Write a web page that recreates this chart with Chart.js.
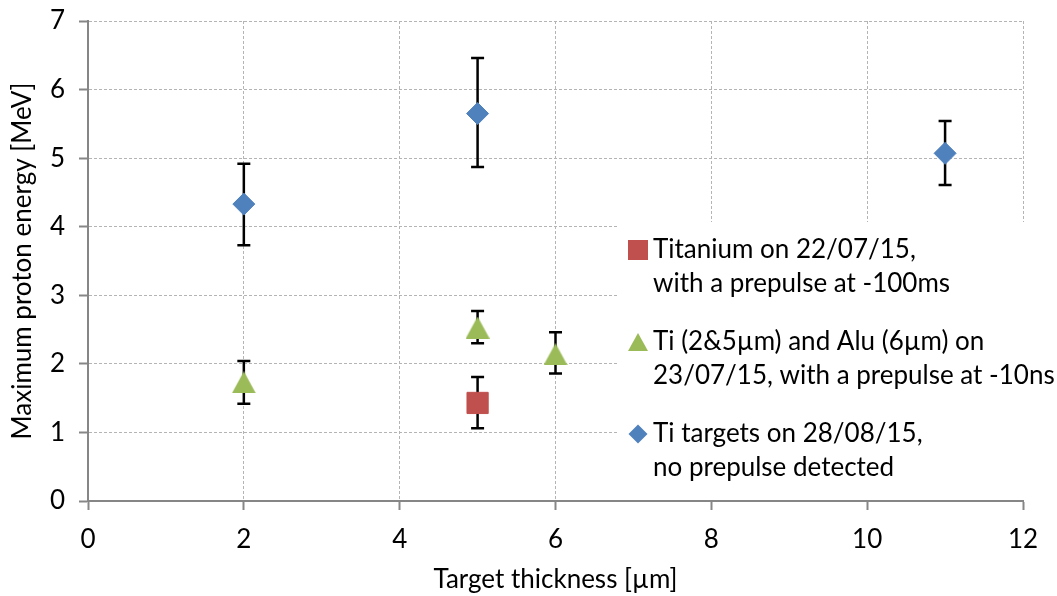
<!DOCTYPE html>
<html>
<head>
<meta charset="utf-8">
<script src="https://cdn.jsdelivr.net/npm/chart.js@4"></script>
<style>
  html, body { margin: 0; padding: 0; background: #fff; }
  #wrap { width: 1057px; height: 596px; position: relative; }
</style>
</head>
<body>
<div id="wrap"><canvas id="chart"></canvas></div>
<script>
// Series data
const seriesLabels = [
    ['Titanium on 22/07/15,', 'with a prepulse at -100ms'],
    ['Ti (2&5µm) and Alu (6µm) on', '23/07/15, with a prepulse at -10ns'],
    ['Ti targets on 28/08/15,', 'no prepulse detected']
];

const redX = [5];
const redY = [1.43];
const redLow = [1.06];
const redHigh = [1.81];

const greenX = [2, 5, 6];
const greenY = [1.73, 2.53, 2.14];
const greenLow = [1.42, 2.30, 1.86];
const greenHigh = [2.04, 2.77, 2.46];

const blueX = [2, 5, 11];
const blueY = [4.33, 5.65, 5.07];
const blueLow = [3.73, 4.87, 4.61];
const blueHigh = [4.92, 6.46, 5.54];

const xTicks = [0, 2, 4, 6, 8, 10, 12];
const yTicks = [0, 1, 2, 3, 4, 5, 6, 7];

const FONT = 'Lato';

// triangle marker centred on its bounding box (like Excel)
function triangleMarker(color, w, h) {
    const c = document.createElement('canvas');
    c.width = w; c.height = h;
    const g = c.getContext('2d');
    g.fillStyle = color;
    g.beginPath();
    g.moveTo(w / 2, 0);
    g.lineTo(w, h);
    g.lineTo(0, h);
    g.closePath();
    g.fill();
    return c;
}

function toPoints(xs, ys) {
    return xs.map((x, i) => ({ x: x, y: ys[i] }));
}

const errorBars = {
    id: 'errorBars',
    beforeDatasetsDraw(chart) {
        const ctx = chart.ctx;
        const xs = chart.scales.x, ys = chart.scales.y;
        ctx.save();
        ctx.strokeStyle = '#000';
        ctx.lineWidth = 2.5;
        chart.data.datasets.forEach(ds => {
            ds.data.forEach((p, i) => {
                const px = xs.getPixelForValue(p.x);
                const top = ys.getPixelForValue(ds.errHigh[i]);
                const bot = ys.getPixelForValue(ds.errLow[i]);
                ctx.beginPath();
                ctx.moveTo(px, top); ctx.lineTo(px, bot);
                ctx.moveTo(px - 6.5, top); ctx.lineTo(px + 6.5, top);
                ctx.moveTo(px - 6.5, bot); ctx.lineTo(px + 6.5, bot);
                ctx.stroke();
            });
        });
        ctx.restore();
    }
};

// legend drawn inside the plot area, on a white box
const insideLegend = {
    id: 'insideLegend',
    afterDatasetsDraw(chart) {
        const ctx = chart.ctx;
        const area = chart.chartArea;
        const boxLeft = 619, boxTop = 222;
        ctx.save();
        ctx.fillStyle = '#fff';
        ctx.fillRect(boxLeft, boxTop, chart.width - boxLeft, area.bottom - 2 - boxTop);
        ctx.font = '26px ' + FONT;
        ctx.textBaseline = 'middle';
        ctx.fillStyle = '#000';
        chart.data.datasets.forEach((ds, i) => {
            const y0 = 250 + i * 92;
            const mx = 638;
            ctx.fillStyle = ds.backgroundColor;
            ctx.beginPath();
            if (i === 0) {
                ctx.rect(mx - 10, y0 - 10, 20, 20);
            } else if (i === 1) {
                ctx.moveTo(mx, y0 - 9); ctx.lineTo(mx + 10, y0 + 9); ctx.lineTo(mx - 10, y0 + 9); ctx.closePath();
            } else {
                ctx.moveTo(mx, y0 - 9.5); ctx.lineTo(mx + 9.5, y0); ctx.lineTo(mx, y0 + 9.5); ctx.lineTo(mx - 9.5, y0); ctx.closePath();
            }
            ctx.fill();
            ctx.fillStyle = '#000';
            ds.legendText.forEach((line, k) => {
                ctx.fillText(line, 653, y0 + k * 34);
            });
        });
        ctx.restore();
    }
};

document.addEventListener('DOMContentLoaded', function() {
    const ctx = document.getElementById('chart').getContext('2d');
    new Chart(ctx, {
        type: 'scatter',
        data: {
            datasets: [
                {
                    label: seriesLabels[0].join(' '),
                    legendText: seriesLabels[0],
                    data: toPoints(redX, redY),
                    errLow: redLow, errHigh: redHigh,
                    backgroundColor: '#C0504D',
                    borderColor: '#C0504D',
                    pointStyle: 'rect',
                    pointRadius: 15,
                    borderWidth: 1
                },
                {
                    label: seriesLabels[1].join(' '),
                    legendText: seriesLabels[1],
                    data: toPoints(greenX, greenY),
                    errLow: greenLow, errHigh: greenHigh,
                    backgroundColor: '#9BBB59',
                    borderColor: '#9BBB59',
                    pointStyle: triangleMarker('#9BBB59', 24, 22),
                    pointRadius: 12
                },
                {
                    label: seriesLabels[2].join(' '),
                    legendText: seriesLabels[2],
                    data: toPoints(blueX, blueY),
                    errLow: blueLow, errHigh: blueHigh,
                    backgroundColor: '#4F81BD',
                    borderColor: '#4F81BD',
                    pointStyle: 'rectRot',
                    pointRadius: 11,
                    borderWidth: 1
                }
            ]
        },
        options: {
            responsive: true,
            maintainAspectRatio: false,
            animation: false,
            layout: { padding: { left: 0, right: 34, top: 21, bottom: 0 } },
            plugins: {
                legend: { display: false },
                tooltip: { enabled: false }
            },
            scales: {
                x: {
                    type: 'linear',
                    min: 0, max: 12,
                    afterBuildTicks: s => { s.ticks = xTicks.map(v => ({ value: v })); },
                    afterFit: s => { s.height = 95; },
                    grid: { color: '#B4B4B4', lineWidth: 1, tickColor: '#868686', tickWidth: 2, tickLength: 9 },
                    border: { color: '#868686', width: 2, dash: [3, 2] },
                    ticks: { color: '#000', font: { family: FONT, size: 26 }, padding: 14, maxRotation: 0 },
                    title: { display: true, text: 'Target thickness [µm]', color: '#000', font: { family: FONT, size: 26 }, padding: { top: 0, bottom: 1 } }
                },
                y: {
                    type: 'linear',
                    min: 0, max: 7,
                    afterBuildTicks: s => { s.ticks = yTicks.map(v => ({ value: v })); },
                    afterFit: s => { s.width = 88; s.paddingTop = 0; s.paddingBottom = 0; },
                    grid: { color: '#B4B4B4', lineWidth: 1, tickColor: '#868686', tickWidth: 2, tickLength: 9 },
                    border: { color: '#868686', width: 2, dash: [3, 2] },
                    ticks: { color: '#000', font: { family: FONT, size: 26 }, padding: 14 },
                    title: { display: true, text: 'Maximum proton energy [MeV]', color: '#000', font: { family: FONT, size: 26 }, padding: { top: 7, bottom: 0 } }
                }
            }
        },
        plugins: [errorBars, insideLegend]
    });
});
</script>
</body>
</html>
